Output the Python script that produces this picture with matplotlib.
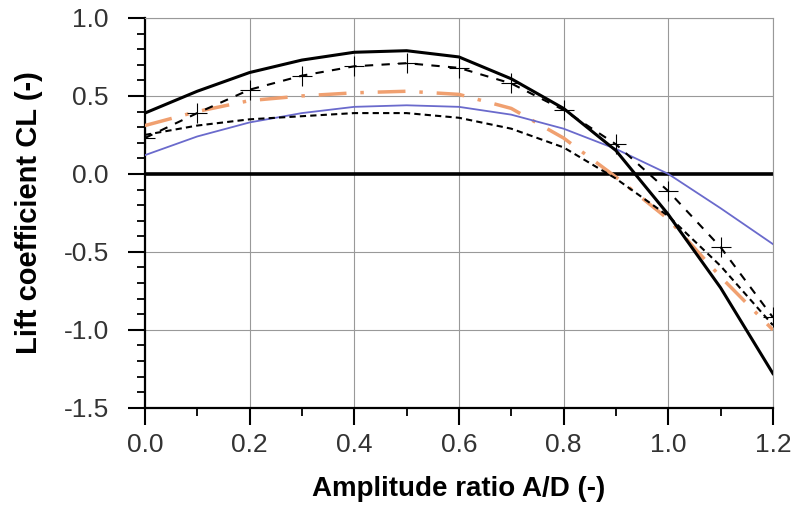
import numpy as np
import matplotlib.pyplot as plt
from matplotlib.ticker import MultipleLocator

plt.rcParams['font.family'] = ['Liberation Sans', 'DejaVu Sans']

# ==========================
# Data
# ==========================
x = [0.0, 0.1, 0.2, 0.3, 0.4, 0.5, 0.6, 0.7, 0.8, 0.9, 1.0, 1.1, 1.2]

cl_solid = [0.39, 0.53, 0.65, 0.73, 0.78, 0.79, 0.75, 0.61, 0.42, 0.15, -0.26, -0.73, -1.28]
cl_dash_marker = [0.23, 0.39, 0.54, 0.63, 0.69, 0.71, 0.68, 0.58, 0.41, 0.19, -0.11, -0.47, -0.92]
cl_dash = [0.25, 0.31, 0.35, 0.37, 0.39, 0.39, 0.36, 0.29, 0.17, -0.03, -0.27, -0.59, -0.97]
cl_orange = [0.31, 0.40, 0.47, 0.50, 0.52, 0.53, 0.51, 0.42, 0.23, -0.02, -0.29, -0.66, -1.00]
cl_blue = [0.12, 0.24, 0.33, 0.39, 0.43, 0.44, 0.43, 0.38, 0.29, 0.16, 0.00, -0.22, -0.45]

x_ticks = [0.0, 0.2, 0.4, 0.6, 0.8, 1.0, 1.2]
y_ticks = [-1.5, -1.0, -0.5, 0.0, 0.5, 1.0]

# ==========================
# Plot
# ==========================
fig = plt.figure(figsize=(7.96, 5.13), dpi=100)
ax = fig.add_axes([0.182, 0.205, 0.789, 0.76])

grid_kw = dict(color="#999999", lw=0.8, zorder=0)
for xv in x_ticks[1:]:
    ax.axvline(xv, **grid_kw)
for yv in [-1.0, -0.5, 0.5, 1.0]:
    ax.axhline(yv, **grid_kw)

ax.axhline(0.0, color="black", lw=2.6, zorder=2)

ax.plot(x, cl_solid, color="black", lw=2.2, zorder=4)
ax.plot(x, cl_dash_marker, color="black", lw=1.5, ls=(0, (4, 4)),
        marker="+", ms=14, mew=0.8, zorder=4)
ax.plot(x, cl_dash, color="black", lw=1.5, ls=(0, (3, 2)), zorder=4)
ax.plot(x, cl_orange, color="#f0a070", lw=2.5, ls=(0, (8, 4, 1, 4)), zorder=3)
ax.plot(x, cl_blue, color="#6a6acc", lw=1.3, zorder=3)

ax.set_xlim(0, 1.2)
ax.set_ylim(-1.5, 1.0)
ax.set_xticks(x_ticks)
ax.set_yticks(y_ticks)
ax.set_xticklabels([f"{v:.1f}" for v in x_ticks])
ax.set_yticklabels([f"{v:.1f}" for v in y_ticks])
ax.xaxis.set_minor_locator(MultipleLocator(0.1))
ax.yaxis.set_minor_locator(MultipleLocator(0.1))

ax.tick_params(which="major", direction="out", length=12, width=1.5,
               labelsize=19, labelcolor="#333333")
ax.tick_params(which="minor", direction="out", length=6, width=1.3)
ax.tick_params(axis="x", which="major", pad=6)
ax.tick_params(axis="y", which="major", pad=14)

ax.spines["top"].set_color("#999999")
ax.spines["right"].set_color("#999999")
ax.spines["top"].set_linewidth(0.8)
ax.spines["right"].set_linewidth(0.8)
ax.spines["left"].set_linewidth(1.6)
ax.spines["bottom"].set_linewidth(1.6)

ax.set_xlabel("Amplitude ratio A/D (-)", fontsize=20, fontweight="bold", labelpad=14)
ax.set_ylabel("Lift coefficient CL (-)", fontsize=21, fontweight="bold", labelpad=15)

fig.savefig("out.png", dpi=100)
plt.close()
